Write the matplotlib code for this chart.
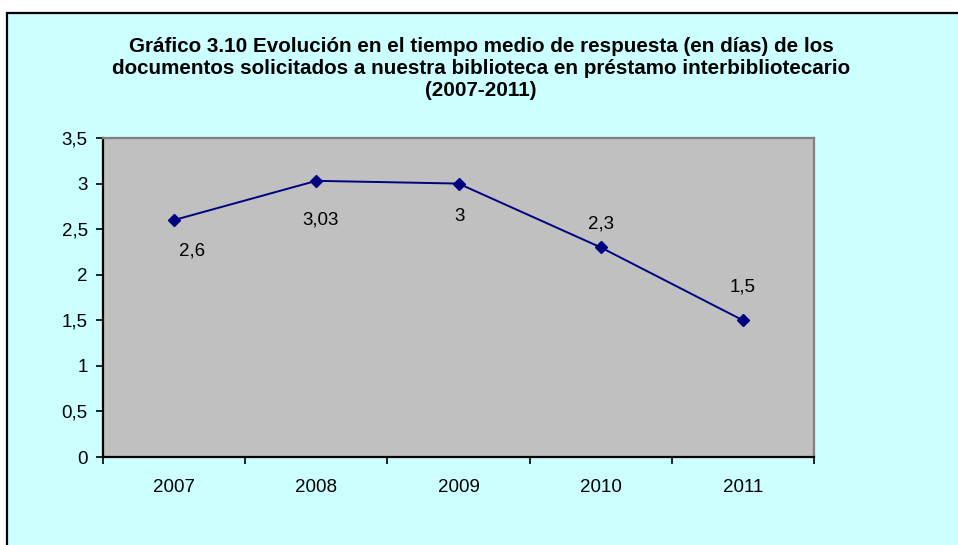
import matplotlib
matplotlib.use("Agg")
import matplotlib.pyplot as plt
from matplotlib.patches import Rectangle

plt.rcParams['font.family'] = ['Liberation Sans', 'DejaVu Sans']

anios = ['2007', '2008', '2009', '2010', '2011']
dias = [2.6, 3.03, 3, 2.3, 1.5]
etiquetas = ['2,6', '3,03', '3', '2,3', '1,5']
yticks = [0, 0.5, 1, 1.5, 2, 2.5, 3, 3.5]
ytick_labels = ['0', '0,5', '1', '1,5', '2', '2,5', '3', '3,5']
# desplazamiento de cada etiqueta en puntos (x, y)
offsets = [(13, -22), (3, -28), (1, -24), (0, 17), (0, 24)]

titulo = ("Gráfico 3.10 Evolución en el tiempo medio de respuesta (en días) de los\n"
          "documentos solicitados a nuestra biblioteca en préstamo interbibliotecario\n"
          "(2007-2011)")

fig = plt.figure(figsize=(9.58, 5.45), dpi=100, facecolor='white')

# fondo del area del grafico con borde negro (se sale por la derecha y abajo)
fondo = Rectangle((7 / 958, -0.1), 1.2, 1.1 - 13 / 545, transform=fig.transFigure,
                  facecolor='#CCFFFF', edgecolor='black', linewidth=1.6, zorder=-5)
fig.patches.append(fondo)

fig.text(0.502, 1 - 68 / 545, titulo, ha='center', va='center', fontsize=14.9,
         fontweight='bold', linespacing=1.2)

ax = fig.add_axes([103 / 958, 1 - 457 / 545, (814 - 103) / 958, (457 - 138) / 545])
ax.set_facecolor('#C0C0C0')

x = list(range(len(anios)))
ax.plot(x, dias, color='#000080', linewidth=1.4, marker='D', markersize=6.5,
        markerfacecolor='#000080', markeredgecolor='#000080')

for xi, yi, lab, off in zip(x, dias, etiquetas, offsets):
    ax.annotate(lab, (xi, yi), xytext=off, textcoords='offset points',
                ha='center', va='center', fontsize=13.5)

ax.set_xlim(-0.5, len(anios) - 0.5)
ax.set_ylim(0, 3.5)
ax.set_yticks(yticks)
ax.set_yticklabels(ytick_labels)

# marcas del eje x entre categorias, etiquetas centradas
ax.set_xticks([i - 0.5 for i in range(len(anios) + 1)])
ax.set_xticklabels([])
ax.set_xticks(x, minor=True)
ax.set_xticklabels(anios, minor=True)
ax.tick_params(axis='x', which='minor', length=0, pad=16, labelsize=13.5)
ax.tick_params(axis='x', which='major', length=5, width=1.2, direction='out')
ax.tick_params(axis='y', length=5, width=1.2, direction='out', pad=6, labelsize=13.5)

ax.spines['left'].set_color('black')
ax.spines['left'].set_linewidth(1.6)
ax.spines['bottom'].set_color('black')
ax.spines['bottom'].set_linewidth(1.6)
ax.spines['top'].set_color('#808080')
ax.spines['top'].set_linewidth(1.6)
ax.spines['right'].set_color('#808080')
ax.spines['right'].set_linewidth(1.6)

fig.savefig('out.png', dpi=100, facecolor=fig.get_facecolor())
